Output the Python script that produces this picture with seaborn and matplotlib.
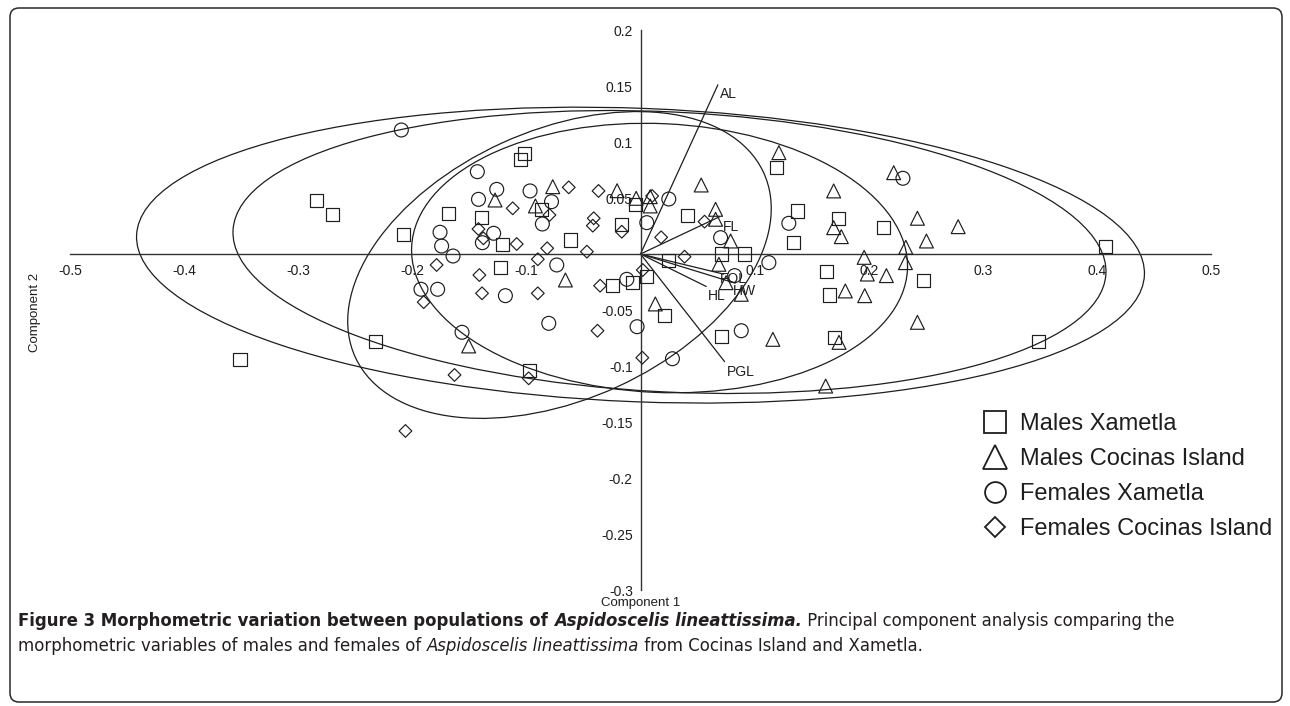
import numpy as np
import pandas as pd
import seaborn as sns
import matplotlib
matplotlib.use('Agg')
import matplotlib.pyplot as plt
from matplotlib.patches import Ellipse, FancyBboxPatch
from matplotlib.lines import Line2D
from matplotlib.transforms import IdentityTransform
from matplotlib import font_manager

### DATA (PCA scores)

males_xam_x = [-0.102, -0.1055, -0.168, -0.139, -0.208, -0.121, -0.0866, -0.0614, -0.123,
               -0.0164, -0.0044, 0.041, 0.0243, 0.005, -0.0067, -0.0243, 0.021, -0.0974,
               -0.232, -0.351, -0.2836, -0.27, 0.119, 0.138, 0.1737, 0.1345, 0.2126,
               0.0708, 0.0912, 0.1629, 0.1658, 0.2477, 0.0708, 0.1702, 0.349, 0.4076]
males_xam_y = [0.0899, 0.0848, 0.0363, 0.0327, 0.017, 0.0089, 0.0393, 0.0125, -0.0119,
               0.0265, 0.0446, 0.034, -0.0054, -0.0202, -0.0256, -0.0277, -0.0545, -0.1036,
               -0.0783, -0.0938, 0.0482, 0.0357, 0.0774, 0.0384, 0.0313, 0.0104, 0.0238,
               0.0, 0.0, -0.0158, -0.0366, -0.0238, -0.0738, -0.0747, -0.0783, 0.0071]

males_coc_x = [-0.0769, -0.1275, -0.0921, -0.0205, -0.0038, 0.0085, 0.0085, -0.0658, -0.1506,
               0.013, 0.0532, 0.1213, 0.0658, 0.0658, 0.079, 0.0687, 0.075, 0.0883,
               0.1693, 0.1693, 0.176, 0.196, 0.1988, 0.2155, 0.1795, 0.1965, 0.2219,
               0.2427, 0.2784, 0.2506, 0.2325, 0.2322, 0.2427, 0.116, 0.174, 0.1623]
males_coc_y = [0.0601, 0.0482, 0.0429, 0.0565, 0.0497, 0.0512, 0.0429, -0.0232, -0.0821,
               -0.0446, 0.0616, 0.0905, 0.0399, 0.031, 0.0116, -0.0092, -0.0256, -0.036,
               0.0563, 0.0235, 0.0155, -0.003, -0.0179, -0.0193, -0.033, -0.0372, 0.0726,
               0.0319, 0.0244, 0.0116, 0.006, -0.0077, -0.061, -0.0762, -0.0789, -0.1179]

fem_xam_x = [-0.2096, -0.143, -0.126, -0.142, -0.0968, -0.078, -0.086, -0.1287, -0.1386,
             -0.1757, -0.1743, -0.1643, -0.0734, -0.1924, -0.1778, -0.1184, -0.0804, -0.1564,
             -0.003, 0.028, 0.0248, 0.0055, -0.012, 0.230, 0.130, 0.0702, 0.1125, 0.0883, 0.0825]
fem_xam_y = [0.1107, 0.0735, 0.0577, 0.0488, 0.0563, 0.0467, 0.0268, 0.0185, 0.0101,
             0.0194, 0.0071, -0.0018, -0.0098, -0.0315, -0.0315, -0.0372, -0.0619, -0.0699,
             -0.0649, -0.0935, 0.0491, 0.028, -0.0226, 0.0676, 0.0274, 0.0146, -0.0077, -0.0685, -0.0193]

fem_coc_x = [-0.0629, -0.0368, 0.0102, -0.112, -0.0798, -0.041, -0.0418, -0.0164, -0.142,
             -0.1377, -0.1085, -0.0818, -0.090, -0.047, 0.0181, 0.0561, 0.0386, 0.002,
             -0.1787, -0.1412, -0.1389, -0.090, -0.190, -0.0354, -0.0377, 0.0016, -0.163, -0.098, -0.206]
fem_coc_y = [0.0595, 0.0563, 0.0518, 0.0408, 0.0348, 0.0319, 0.0253, 0.0199, 0.0223,
             0.014, 0.0089, 0.0051, -0.0047, 0.0021, 0.0149, 0.0289, -0.0024, -0.0143,
             -0.0098, -0.0188, -0.0351, -0.0351, -0.043, -0.0283, -0.0685, -0.0926, -0.108, -0.111, -0.158]

group_names = ['Males Xametla', 'Males Cocinas Island', 'Females Xametla', 'Females Cocinas Island']

# loadings (variable vectors)
var_names = ['AL', 'FL', 'FOL', 'HW', 'HL', 'PGL']
var_x = [0.0678, 0.0693, 0.073, 0.083, 0.0576, 0.0737]
var_y = [0.151, 0.0333, -0.018, -0.026, -0.029, -0.0961]

# 95% ellipses: centre x, centre y, semi axis 1, semi axis 2, angle (deg)
ell_cx = [0.0, 0.0254, 0.0167, -0.071]
ell_cy = [-0.001, 0.0018, -0.0036, -0.0098]
ell_a = [0.442, 0.383, 0.2175, 0.197]
ell_b = [0.131, 0.125, 0.12, 0.12]
ell_ang = [-2.3, -2.9, -2.7, 25.0]

xticks = [-0.5, -0.4, -0.3, -0.2, -0.1, 0.1, 0.2, 0.3, 0.4, 0.5]
yticks = [-0.3, -0.25, -0.2, -0.15, -0.1, -0.05, 0.05, 0.1, 0.15, 0.2]

caption_l1 = [('Figure 3 Morphometric variation between populations of ', 'bold', 'normal'),
              ('Aspidoscelis lineattissima.', 'bold', 'italic'),
              (' Principal component analysis comparing the', 'normal', 'normal')]
caption_l2 = [('morphometric variables of males and females of ', 'normal', 'normal'),
              ('Aspidoscelis lineattissima', 'normal', 'italic'),
              (' from Cocinas Island and Xametla.', 'normal', 'normal')]

### PLOT

sns.set_style('white')
plt.rcParams['font.family'] = ['Liberation Sans', 'DejaVu Sans']
INK = '#1e1e1e'

W, H = 1290, 706
fig = plt.figure(figsize=(W / 100, H / 100), dpi=100)
ax = fig.add_axes([70 / W, (H - 590) / H, 1141 / W, 560 / H])
ax.set_xlim(-0.5, 0.5)
ax.set_ylim(-0.3, 0.2)

df = pd.concat([
    pd.DataFrame({'c1': males_xam_x, 'c2': males_xam_y, 'group': group_names[0]}),
    pd.DataFrame({'c1': males_coc_x, 'c2': males_coc_y, 'group': group_names[1]}),
    pd.DataFrame({'c1': fem_xam_x, 'c2': fem_xam_y, 'group': group_names[2]}),
    pd.DataFrame({'c1': fem_coc_x, 'c2': fem_coc_y, 'group': group_names[3]}),
])

markers = {group_names[0]: ('s', 88), group_names[1]: ('^', 100),
           group_names[2]: ('o', 100), group_names[3]: ('D', 42)}
for g in group_names:
    sub = df[df['group'] == g]
    m, s = markers[g]
    sns.scatterplot(data=sub, x='c1', y='c2', marker=m, s=s, ax=ax, legend=False,
                    edgecolor=INK, linewidth=0.85, zorder=3, clip_on=False)
for coll in ax.collections:
    coll.set_facecolor('none')
    coll.set_edgecolor(INK)

for cx, cy, a, b, ang in zip(ell_cx, ell_cy, ell_a, ell_b, ell_ang):
    ax.add_patch(Ellipse((cx, cy), 2 * a, 2 * b, angle=ang, fill=False,
                         edgecolor=INK, lw=0.9, zorder=2, clip_on=False))

# loading vectors
label_off = {'AL': (2, -2), 'FL': (3, -3), 'FOL': (-4, 2), 'HW': (-2, -1), 'HL': (2, -3), 'PGL': (2, -3)}
for name, vx, vy in zip(var_names, var_x, var_y):
    ax.plot([0, vx], [0, vy], color=INK, lw=0.9, zorder=2)
    ax.annotate(name, (vx, vy), xytext=label_off[name], textcoords='offset pixels',
                ha='left', va='top', fontsize=10, color=INK)

# axes through the origin
for side in ['top', 'right']:
    ax.spines[side].set_visible(False)
ax.spines['left'].set_position(('data', 0))
ax.spines['bottom'].set_position(('data', 0))
for side in ['left', 'bottom']:
    ax.spines[side].set_color('#333333')
    ax.spines[side].set_linewidth(1.0)
ax.set_xticks(xticks)
ax.set_xticklabels(['{:g}'.format(t) for t in xticks])
ax.set_yticks(yticks)
ax.set_yticklabels(['{:g}'.format(t) for t in yticks])
ax.tick_params(axis='both', direction='out', length=4.5, width=1.0, color='#333333',
               labelsize=10, labelcolor=INK)
ax.tick_params(axis='x', pad=3)
ax.tick_params(axis='y', pad=1)
ax.set_xlabel('')
ax.set_ylabel('')
ax.patch.set_alpha(0)

fig.text(641 / W, 1 - 603 / H, 'Component 1', ha='center', va='center', fontsize=9.5, color=INK)
fig.text(35 / W, 1 - 312 / H, 'Component 2', ha='center', va='center', rotation=90,
         fontsize=9.5, color=INK)

# legend
handles = [Line2D([], [], ls='none', marker='s', ms=15.5, mfc='none', mec=INK, mew=1.3),
           Line2D([], [], ls='none', marker='^', ms=17, mfc='none', mec=INK, mew=1.3),
           Line2D([], [], ls='none', marker='o', ms=15, mfc='none', mec=INK, mew=1.3),
           Line2D([], [], ls='none', marker='D', ms=10.5, mfc='none', mec=INK, mew=1.3)]
fig.legend(handles, group_names, loc='upper left', bbox_to_anchor=(983 / W, 1 - 413 / H),
           frameon=False, fontsize=17, handlelength=1.0, handletextpad=0.55,
           labelspacing=0.55, borderpad=0, borderaxespad=0, labelcolor=INK)

# frame round the figure
fig.add_artist(FancyBboxPatch((10, 4), 1272, 694, boxstyle='round,pad=0,rounding_size=9',
                              transform=IdentityTransform(), fill=False,
                              edgecolor='#2a2a2a', lw=1.1))

# caption, written run by run (a condensed face if there is one)
cap_font = 'DejaVu Sans'
cap_stretch = 'normal'
for f in font_manager.fontManager.ttflist:
    if f.name == 'Liberation Sans Narrow':
        cap_font = 'Liberation Sans Narrow'
        break
    if f.name == 'DejaVu Sans' and f.stretch == 'condensed':
        cap_stretch = 'condensed'
renderer = fig.canvas.get_renderer()


def run_width(txt, weight, style, size):
    kw = dict(family=cap_font, fontweight=weight, fontstyle=style, fontsize=size, fontstretch=cap_stretch)
    t1 = fig.text(0, 0, '|' + txt + '|', **kw)
    t2 = fig.text(0, 0, '||', **kw)
    w = t1.get_window_extent(renderer).width - t2.get_window_extent(renderer).width
    t1.remove()
    t2.remove()
    return w


def put_line(runs, x, y, size):
    for txt, weight, style in runs:
        fig.text(x, y, txt, family=cap_font, fontweight=weight, fontstyle=style,
                 fontsize=size, fontstretch=cap_stretch, color='#231f20',
                 transform=IdentityTransform(), va='baseline')
        x += run_width(txt, weight, style, size)


size = 12.0
w1 = sum(run_width(*r, size) for r in caption_l1)
size = size * 1154 / w1
put_line(caption_l1, 18, H - 626, size)
put_line(caption_l2, 18, H - 651, size)

fig.savefig('out.png', dpi=100)
